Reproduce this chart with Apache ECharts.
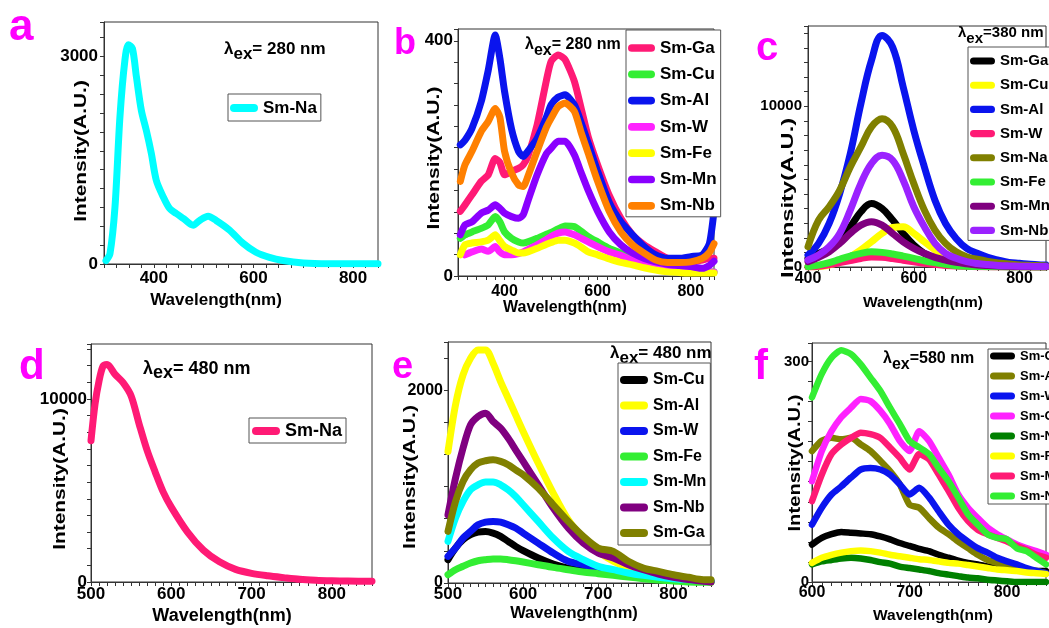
<!DOCTYPE html>
<html>
<head>
<meta charset="utf-8">
<title>Sm emission spectra</title>
<script src="https://cdn.jsdelivr.net/npm/echarts@6.0.0/dist/echarts.min.js"></script>
<style>
html, body { margin: 0; padding: 0; background: #fff; }
#main { width: 1049px; height: 628px; }
</style>
</head>
<body>
<div id="main"></div>
<script>
// ---- data (wavelength in nm, intensity in A.U.) ----
// a: lambda_ex = 280 nm
const wlA = [304,312,322,332,342,349,357,365,375,385,395,405,419,432,445,459,479,492,509,525,552,579,605,632,659,700,750,800,850];
const naA = [50,150,820,2130,2950,3170,3120,2710,2220,1930,1600,1210,970,800,730,660,560,630,690,630,490,300,170,95,50,15,5,5,5];

// b: lambda_ex = 280 nm
const wlB = [305,315,330,350,365,380,390,400,415,430,440,450,470,490,500,515,530,550,565,580,600,625,650,675,700,725,750,775,800,825,840,850];
const gaB = [110,121,138,161,172,200,193,172,178,183,189,203,257,333,365,376,368,331,284,236,189,137,98,70,53,41,30,27,24,27,30,30];
const cuB = [64,70,75,81,87,101,92,75,64,58,56,58,64,71,74,80,85,84,76,67,58,47,39,30,23,18,13,10,9,7,7,7];
const alB = [223,231,251,297,350,410,370,314,250,212,203,212,234,270,291,304,308,291,260,225,178,125,92,70,50,36,30,30,33,36,55,110];
const wB  = [null,36,41,46,42,50,41,36,36,38,41,45,53,62,67,73,75,70,64,58,50,41,35,27,23,19,13,10,9,7,7,7];
const feB = [36,53,56,58,61,70,60,50,44,39,39,41,47,54,57,61,61,56,49,41,36,29,23,19,14,10,7,6,5,5,5,5];
const mnB = [70,87,92,107,112,121,115,107,101,98,104,127,172,208,217,229,229,206,175,145,110,75,53,39,30,24,20,18,16,13,18,25];
const nbB = [161,189,212,246,263,285,270,212,175,155,152,169,212,253,268,288,294,280,243,208,161,110,75,53,39,27,23,23,24,30,40,55];

// c: lambda_ex = 380 nm
const wlC = [400,420,440,460,480,500,520,540,560,580,600,620,640,660,680,700,720,740,760,780,800,820,840,850];
const gaC = [540,850,1160,1680,2500,3440,3950,3640,2920,2090,1370,850,540,330,200,120,80,50,30,20,10,10,5,5];
const cuC = [20,20,120,330,640,1060,1570,2090,2460,2500,2090,1570,1060,640,390,230,140,90,60,40,30,20,10,10];
const alC = [745,1470,2710,4580,7060,10170,12860,14410,13690,11200,8510,6230,4160,2710,1780,1160,850,600,430,290,230,170,130,120];
const wC  = [0,50,150,270,400,530,620,600,520,420,320,230,160,100,60,40,20,10,5,5,5,5,5,5];
const naC = [1260,2920,3750,4780,6230,7470,8720,9230,8720,7060,5200,3540,2300,1470,950,640,480,350,250,180,130,100,80,70];
const feC = [20,120,270,480,680,850,950,910,810,680,540,390,270,170,80,50,30,20,10,5,5,5,5,5];
const mnC = [330,600,950,1470,2090,2610,2820,2610,2090,1570,1160,850,600,430,290,200,130,90,60,40,30,20,15,15];
const nbC = [430,745,1260,2090,3540,5200,6440,6960,6650,5400,3750,2500,1470,850,540,330,220,150,100,70,50,40,30,30];

// d: lambda_ex = 480 nm
const wlD = [500,505,510,515,520,530,540,550,560,570,580,590,600,620,640,660,680,700,720,740,760,780,800,820,850];
const naD = [7720,9710,10980,11790,11880,11340,10890,10160,8620,7170,6000,4910,4090,2740,1740,1100,690,470,340,240,150,100,70,50,40];

// e: lambda_ex = 480 nm
const wlE = [500,510,520,530,540,550,560,570,580,590,600,620,640,660,680,700,720,740,760,780,800,820,840,850];
const cuE = [242,363,449,501,528,535,518,484,432,380,335,259,197,155,128,121,104,79,59,45,31,24,17,17];
const alE = [1364,1848,2159,2332,2418,2418,2280,2090,1917,1744,1572,1244,933,656,466,328,225,155,104,69,45,24,17,10];
const wE  = [276,363,466,535,604,632,639,632,604,570,518,414,311,225,190,155,131,93,69,52,38,28,17,17];
const feE = [86,138,173,207,231,242,249,249,242,231,218,190,162,138,114,97,79,62,45,31,21,10,7,7];
const mnE = [432,674,846,967,1019,1047,1047,1019,967,898,812,639,466,328,242,173,138,104,79,59,45,35,24,24];
const nbE = [708,1088,1399,1641,1727,1762,1675,1606,1503,1382,1261,1019,777,570,414,311,259,190,138,93,59,35,17,10];
const gaE = [535,846,1054,1174,1244,1268,1278,1261,1226,1174,1123,984,812,639,484,363,328,225,155,121,86,59,35,35];

// f: lambda_ex = 580 nm
const wlF = [600,610,620,630,640,650,660,670,680,690,700,710,720,730,740,750,760,770,780,790,800,810,820,830,840];
const cuF = [51,60,65,68,67,66,65,62,58,53,49,45,42,37,33,29,26,24,21,19,18,17,16,15,15];
const alF = [178,192,196,194,196,187,178,165,151,133,105,101,87,74,65,55,46,37,30,26,21,19,17,15,12];
const wF  = [78,101,119,130,142,153,155,153,146,133,119,128,115,96,78,65,55,46,40,33,28,24,19,15,12];
const gaF = [137,178,205,224,237,249,246,233,215,192,178,205,192,169,146,119,101,87,74,65,58,51,46,42,37];
const naF = [24,28,30,32,33,32,30,27,25,21,19,17,15,12,10,8,6,5,3,2,1,0,0,0,0];
const feF = [26,33,37,40,42,43,42,40,37,35,33,31,30,28,26,25,23,21,19,17,16,15,13,12,11];
const mnF = [110,146,174,187,196,203,201,196,183,169,153,174,167,146,124,101,83,71,65,60,55,49,44,37,33];
const nbF = [251,283,305,315,310,296,278,260,237,215,192,183,174,155,137,115,92,78,65,60,58,46,42,33,24];

// tick labels that are shown on each axis
const xLabelsA = [400, 600, 800], yLabelsA = [0, 3000];
const xLabelsB = [400, 600, 800], yLabelsB = [0, 400];
const xLabelsC = [400, 600, 800], yLabelsC = [0, 10000];
const xLabelsD = [500, 600, 700, 800], yLabelsD = [0, 10000];
const xLabelsE = [500, 600, 700, 800], yLabelsE = [0, 2000];
const xLabelsF = [600, 700, 800], yLabelsF = [0, 300];

const FONT = "'Liberation Sans', Arial, sans-serif";
const PINK = '#ff1a75', GREEN = '#33ee33', BLUE = '#0a14ee', MAG = '#ff22ff';
const YEL = '#ffff00', OLIVE = '#808000', PURP = '#800080', VIOL = '#8a00ff';

// y minor ticks follow the original: 10 minor ticks between 0 and the labelled value
const panels = [
  { key: 'a', rect: [104, 22, 274, 242], x: [300, 850, 25, xLabelsA, 17, 6], y: [0, 3500, 3000 / 11, yLabelsA, 17, 6], smooth: 0.3,
    lines: [['Sm-Na', '#00ffff', wlA, naA]] },
  { key: 'b', rect: [458, 29, 256, 247], x: [300, 850, 20, xLabelsB, 16, 8], y: [0, 420, 400 / 11, yLabelsB, 17, 5], smooth: 0.2,
    lines: [['Sm-Ga', PINK, wlB, gaB], ['Sm-Cu', GREEN, wlB, cuB], ['Sm-Al', BLUE, wlB, alB], ['Sm-W', MAG, wlB, wB],
            ['Sm-Fe', YEL, wlB, feB], ['Sm-Mn', VIOL, wlB, mnB], ['Sm-Nb', '#ff8000', wlB, nbB]] },
  { key: 'c', rect: [808, 26, 241, 241], x: [400, 850, 20, xLabelsC, 16, 4], y: [0, 15000, 10000 / 11, yLabelsC, 15, 6], smooth: 0.4,
    lines: [['Sm-Ga', '#000000', wlC, gaC], ['Sm-Cu', YEL, wlC, cuC], ['Sm-Al', BLUE, wlC, alC], ['Sm-W', PINK, wlC, wC],
            ['Sm-Na', OLIVE, wlC, naC], ['Sm-Fe', GREEN, wlC, feC], ['Sm-Mn', PURP, wlC, mnC], ['Sm-Nb', '#9b22ff', wlC, nbC]] },
  { key: 'd', rect: [91, 344, 281, 238], x: [500, 850, 10, xLabelsD, 17, 4], y: [0, 13000, 10000 / 11, yLabelsD, 17, 4], smooth: 0.3,
    lines: [['Sm-Na', PINK, wlD, naD]] },
  { key: 'e', rect: [448, 342, 263, 241], x: [500, 850, 10, xLabelsE, 17, 3], y: [0, 2500, 2000 / 6, yLabelsE, 16, 5], smooth: 0.3,
    lines: [['Sm-Cu', '#000000', wlE, cuE], ['Sm-Al', YEL, wlE, alE], ['Sm-W', BLUE, wlE, wE], ['Sm-Fe', GREEN, wlE, feE],
            ['Sm-Mn', '#00ffff', wlE, mnE], ['Sm-Nb', PURP, wlE, nbE], ['Sm-Ga', OLIVE, wlE, gaE]] },
  { key: 'f', rect: [812, 343, 237, 239], x: [600, 840, 10, xLabelsF, 16, 3], y: [0, 325, 300 / 11, yLabelsF, 15, 3], smooth: 0.2,
    lines: [['Sm-Cu', '#000000', wlF, cuF], ['Sm-Al', OLIVE, wlF, alF], ['Sm-W', BLUE, wlF, wF], ['Sm-Ga', MAG, wlF, gaF],
            ['Sm-Na', '#008000', wlF, naF], ['Sm-Fe', YEL, wlF, feF], ['Sm-Mn', PINK, wlF, mnF], ['Sm-Nb', GREEN, wlF, nbF]] }
];

// legend boxes: [left, top, itemWidth, fontSize, lineHeight, itemGap, padding]
const legendBoxes = {
  a: [228, 94, 28, 17, 20, 0, [4, 4, 3, 2]],
  b: [626, 30, 27, 17, 20, 6.3, [8, 4, 1, 2]],
  c: [968, 47, 25, 15, 18, 6.2, [5, 4, 1, 2]],
  d: [249, 418, 28, 18, 20, 0, [3, 4, 2, 3]],
  e: [618, 363, 28, 16, 20, 5.5, [7, 4, 2, 2]],
  f: [988, 349, 25, 13, 14, 6, [0, 4, 1, 2]]
};

function onlyLabels(list) {
  return function (v) {
    const r = Math.round(v);
    return Math.abs(v - r) < 1e-3 && list.indexOf(r) >= 0 ? String(r) : '';
  };
}

function axisBase(min, max, step, labels, fs, margin) {
  return {
    type: 'value', min: min, max: max, interval: step,
    axisLine: { show: true, lineStyle: { color: '#333', width: 1 } },
    axisTick: { show: true, inside: false, length: 4, lineStyle: { color: '#333' } },
    splitLine: { show: false },
    axisLabel: { margin: margin, formatter: onlyLabels(labels), color: '#000',
                 fontFamily: FONT, fontWeight: 'bold', fontSize: fs }
  };
}

const grids = [], xAxes = [], yAxes = [], series = [], legends = [];
panels.forEach(function (p, i) {
  grids.push({ left: p.rect[0], top: p.rect[1], width: p.rect[2], height: p.rect[3],
               show: true, borderColor: '#333', borderWidth: 1, containLabel: false });
  const xa = axisBase.apply(null, p.x); xa.gridIndex = i;
  const ya = axisBase.apply(null, p.y); ya.gridIndex = i;
  xAxes.push(xa); yAxes.push(ya);
  const names = [];
  p.lines.forEach(function (ln) {
    const name = ln[0] + '#' + p.key;
    names.push(name);
    series.push({
      type: 'line', name: name, xAxisIndex: i, yAxisIndex: i,
      data: ln[2].map(function (w, k) { return [w, ln[3][k]]; }),
      showSymbol: false, symbol: 'none', smooth: p.smooth,
      lineStyle: { width: p.key === 'f' ? 6.5 : 7, color: ln[1], cap: 'round', join: 'round' },
      itemStyle: { color: ln[1] }, silent: true
    });
  });
  const L = legendBoxes[p.key];
  legends.push({
    data: names, orient: 'vertical', left: L[0], top: L[1],
    itemWidth: L[2], itemHeight: 8, itemGap: L[5], padding: L[6],
    icon: 'path://M4,0 L24,0 A4,4 0 0 1 24,8 L4,8 A4,4 0 0 1 4,0 Z',
    borderColor: '#555', borderWidth: 1, backgroundColor: '#fff', selectedMode: false,
    formatter: function (n) { return n.split('#')[0]; },
    textStyle: { fontFamily: FONT, fontWeight: 'bold', fontSize: L[3], lineHeight: L[4], color: '#000' }
  });
});

// panel letters, excitation notes, axis titles
const graphics = [];
[['a', 9, 27.6, 44], ['b', 394, 44.4, 36], ['c', 756, 49, 40],
 ['d', 19, 367.3, 42], ['e', 392, 367.7, 38], ['f', 754, 367.3, 42]].forEach(function (t) {
  graphics.push({ type: 'text', x: t[1], y: t[2], silent: true,
    style: { text: t[0], fill: '#ff00ff', font: 'bold ' + t[3] + 'px ' + FONT, align: 'left', verticalAlign: 'middle' } });
});

function exNote(x, yMid, rest, fs) {
  const st = { fontFamily: FONT, fontWeight: 'bold', fontSize: fs, fill: '#000', lineHeight: 20, verticalAlign: 'top' };
  return { type: 'text', x: x, y: yMid + 3.5, silent: true,
    style: { text: '{l|λ}{s|ex}{n|' + rest + '}', align: 'left', verticalAlign: 'middle',
      rich: { l: st, n: st, s: { fontFamily: FONT, fontWeight: 'bold', fontSize: fs, fill: '#000', lineHeight: 27 } } } };
}
graphics.push(exNote(224, 51, '= 280 nm', 17));
graphics.push(exNote(525, 47, '= 280 nm', 16));
graphics.push(exNote(958, 35, '=380 nm', 15));
graphics.push(exNote(143, 370, '= 480 nm', 18));
graphics.push(exNote(610, 355, '= 480 nm', 17));
graphics.push(exNote(883, 361, '=580 nm', 16));

[[216, 300, 17], [565, 308, 16], [923, 303, 15.5], [222, 616, 18], [574, 613, 16.5], [933, 616, 15.5]].forEach(function (t) {
  graphics.push({ type: 'text', x: t[0], y: t[1], silent: true,
    style: { text: 'Wavelength(nm)', fill: '#000', font: 'bold ' + t[2] + 'px ' + FONT, align: 'center', verticalAlign: 'middle' } });
});
[[81, 151, 1.23], [434, 158, 1.24], [788, 198, 1.39], [60, 479, 1.23], [410, 477, 1.25], [795, 463, 1.19]].forEach(function (t) {
  graphics.push({ type: 'text', x: t[0], y: t[1], rotation: Math.PI / 2, scaleX: t[2], silent: true,
    style: { text: 'Intensity(A.U.)', fill: '#000', font: 'bold 17px ' + FONT, align: 'center', verticalAlign: 'middle' } });
});

const chart = echarts.init(document.getElementById('main'), null, { renderer: 'canvas' });
chart.setOption({
  animation: false,
  backgroundColor: '#fff',
  grid: grids,
  xAxis: xAxes,
  yAxis: yAxes,
  legend: legends,
  series: series,
  graphic: graphics
});
</script>
</body>
</html>
